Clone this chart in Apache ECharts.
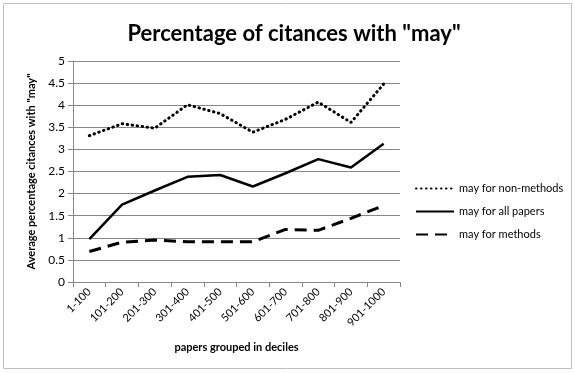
<!DOCTYPE html>
<html><head><meta charset="utf-8">
<script src="https://cdn.jsdelivr.net/npm/echarts@6/dist/echarts.min.js"></script>
<style>html,body{margin:0;padding:0;background:#fff}#c{width:575px;height:373px}</style>
</head><body><div id="c"></div>
<script>
const categories = ["1-100","101-200","201-300","301-400","401-500","501-600","601-700","701-800","801-900","901-1000"];
const nonMethods = [3.31,3.58,3.48,4.01,3.81,3.39,3.68,4.07,3.61,4.48];
const allPapers  = [0.97,1.75,2.07,2.38,2.42,2.16,2.46,2.78,2.59,3.13];
const methods    = [0.69,0.90,0.95,0.91,0.91,0.91,1.19,1.17,1.44,1.73];
const yTicks = [0,0.5,1,1.5,2,2.5,3,3.5,4,4.5,5];

const F = 'Lato, "Open Sans", sans-serif';
const chart = echarts.init(document.getElementById('c'), null, {renderer:'canvas'});
chart.setOption({
  animation:false,
  title:{text:'Percentage of citances with "may"', left:289, textAlign:'center', top:18,
    textStyle:{fontFamily:F, fontSize:22, fontWeight:'bold', color:'#000'}},
  graphic:[{type:'rect', shape:{x:3.5,y:3.5,width:568,height:365}, style:{fill:'none', stroke:'#bfbfbf', lineWidth:1}, silent:true}],
  grid:{left:73, right:175, top:61, bottom:91},
  legend:{orient:'vertical', left:410, top:178, itemWidth:38, itemHeight:10, itemGap:12,
    itemStyle:{opacity:0},
    textStyle:{fontFamily:F, fontSize:11, color:'#000'},
    data:['may for non-methods','may for all papers','may for methods']},
  xAxis:{type:'category', data:categories, boundaryGap:true,
    name:'papers grouped in deciles', nameLocation:'middle', nameGap:60,
    nameTextStyle:{fontFamily:F, fontSize:11, fontWeight:'bold', color:'#000'},
    axisLine:{lineStyle:{color:'#868686'}}, axisTick:{show:true, length:5, alignWithLabel:false, lineStyle:{color:'#868686'}},
    axisLabel:{rotate:45, fontFamily:F, fontSize:11, color:'#000', margin:8, interval:0}},
  yAxis:{type:'value', min:yTicks[0], max:yTicks[yTicks.length-1], interval:0.5,
    name:'Average percentage citances with "may"', nameLocation:'middle', nameGap:33,
    nameTextStyle:{fontFamily:F, fontSize:11, fontWeight:'bold', color:'#000'},
    axisLine:{show:true, lineStyle:{color:'#868686'}}, axisTick:{show:true, length:5, lineStyle:{color:'#868686'}},
    splitLine:{lineStyle:{color:'#868686', width:1}},
    axisLabel:{fontFamily:F, fontSize:12, color:'#000', margin:8}},
  series:[
    {name:'may for non-methods', type:'line', data:nonMethods, symbol:'none',
      lineStyle:{color:'#000', width:3, type:[0.5,4.5], cap:'round'}, itemStyle:{color:'#000'}},
    {name:'may for all papers', type:'line', data:allPapers, symbol:'none',
      lineStyle:{color:'#000', width:2.5, type:'solid'}, itemStyle:{color:'#000'}},
    {name:'may for methods', type:'line', data:methods, symbol:'none',
      lineStyle:{color:'#000', width:3, type:[12,7]}, itemStyle:{color:'#000'}}
  ]
});
</script></body></html>
